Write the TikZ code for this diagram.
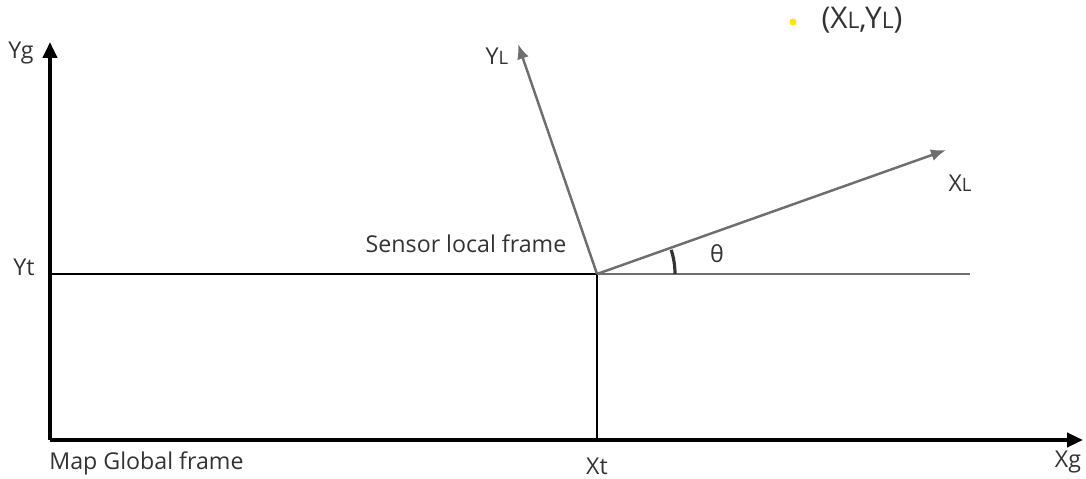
\documentclass[tikz,border=0pt]{standalone}
\usepackage{fontspec}
\setmainfont{Open Sans}
\usetikzlibrary{arrows.meta, positioning}
\definecolor{framegray}{HTML}{6E6E6E}
\definecolor{pointyellow}{HTML}{FFE500}
\definecolor{labeltext}{HTML}{333333}

\begin{document}
\begin{tikzpicture}[
    x=0.02cm, y=-0.02cm,
    every node/.style={font=\fontsize{13.2}{15}\selectfont, text=labeltext, inner sep=0pt},
    globalaxis/.style={line width=2.2pt, -{Triangle[length=3.2mm, width=2.8mm]}},
    localaxis/.style={framegray, line width=1.4pt, -{Latex[length=3mm, width=2.4mm]}},
    guide/.style={line width=0.6pt}
]
\useasboundingbox (0,0) rectangle (1086,479);

% frames
\coordinate (origin) at (50,440);
\coordinate (ygtip) at (50,42);
\coordinate (xgtip) at (1083,440);
\coordinate (yt) at (50,274);
\coordinate (sensor) at (597,274);
\coordinate (xt) at (597,440);
\coordinate (ylend) at (518,44);
\coordinate (xlend) at (946,150);
\coordinate (horizon) at (970,274);

\draw[globalaxis] (origin) -- (ygtip);
\draw[globalaxis] (origin) -- (xgtip);
\draw[guide] (yt) -- (sensor) -- (xt);
\draw[framegray, line width=1.4pt] (sensor) -- (horizon);
\draw[localaxis] (sensor) -- (ylend);
\draw[localaxis] (sensor) -- (xlend);
\draw[line width=1.8pt, black!80] (sensor) ++(0:78) arc[start angle=0, end angle=-18, radius=78];

% labels
\node (ylabel) at (21,53) {Yg};
\node (ytlabel) at (24,267) {Yt};
\node[anchor=north west] (mapname) at (49,451) {Map Global frame};
\node (xtlabel) at (597,466) {Xt};
\node (xglabel) at (1068,462) {Xg};
\node (yllabel) at (497,56) {Y{\fontsize{10.5}{12}\selectfont L}};
\node (xllabel) at (960,183) {X{\fontsize{10.5}{12}\selectfont L}};
\node (theta) at (717,254) {θ};
\node (sensorname) at (466,244) {Sensor local frame};
\fill[pointyellow] (793,22) circle (3.5);
\node (point) at (862,20) {\fontsize{17}{19}\selectfont (X{\fontsize{13}{15}\selectfont L},Y{\fontsize{13}{15}\selectfont L})};

\end{tikzpicture}
\end{document}
